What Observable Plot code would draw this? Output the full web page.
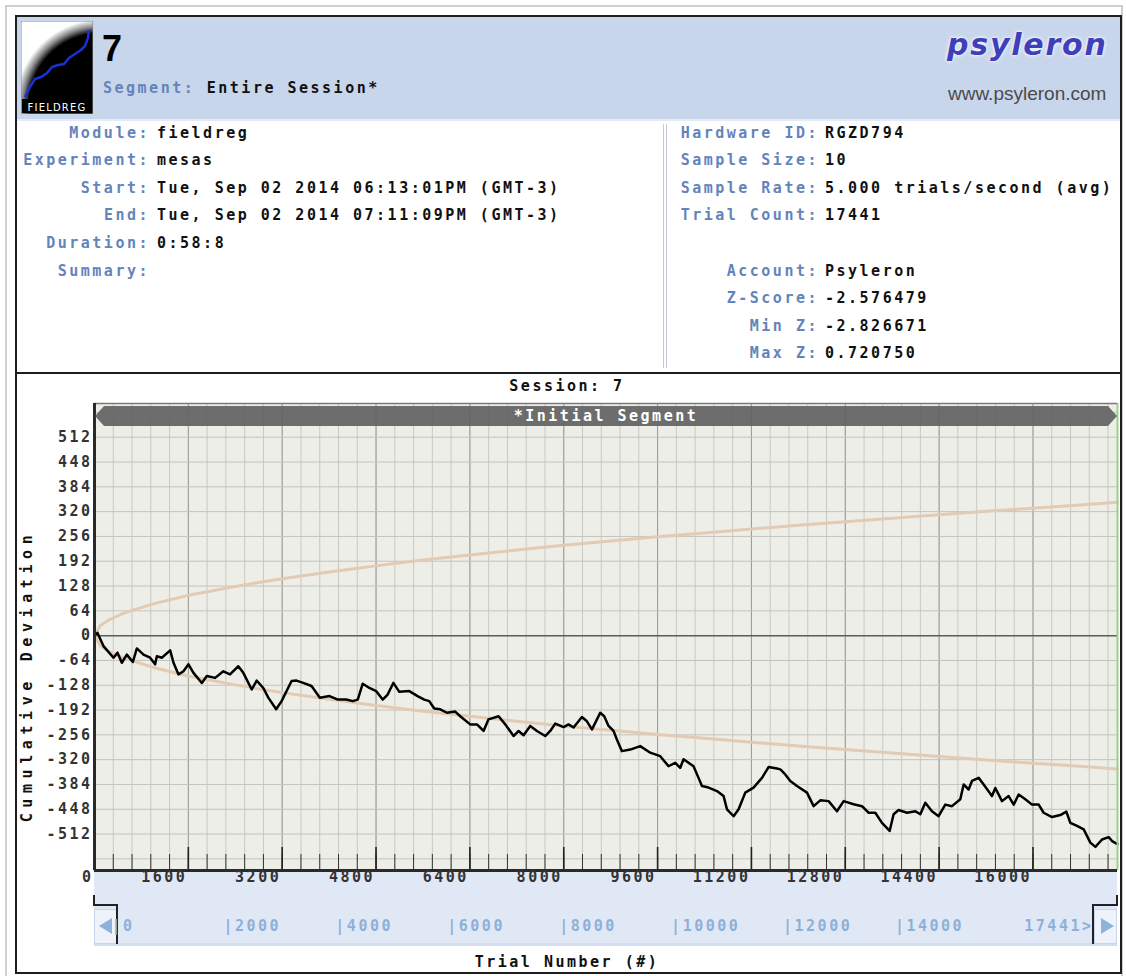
<!DOCTYPE html>
<html>
<head>
<meta charset="utf-8">
<script src="https://cdn.jsdelivr.net/npm/d3@7"></script>
<script src="https://cdn.jsdelivr.net/npm/@observablehq/plot@0.6"></script>
<style>
  html, body { margin: 0; padding: 0; background: #fff; }
  body { width: 1126px; height: 976px; position: relative; overflow: hidden; }
  .mono { font-family: "DejaVu Sans Mono", monospace; font-weight: bold; font-size: 15px; letter-spacing: 2.5px; line-height: 20px; white-space: pre; }
  .lbl { color: #6384bb; }
  .val { color: #111; }
</style>
</head>
<body>
<script>
// ---------------- data ----------------
const trialX = [0,51,153,324,392,466,551,654,722,835,948,1034,1063,1148,1290,1347,1432,1517,1602,1687,1830,1915,2057,2196,2310,2452,2537,2680,2765,2878,2963,3097,3190,3275,3360,3445,3558,3700,3785,3842,4007,4148,4290,4403,4488,4573,4687,4801,4913,4998,5095,5197,5367,5508,5622,5707,5792,5895,6008,6150,6235,6405,6520,6633,6718,6889,7003,7145,7230,7315,7429,7543,7685,7770,7855,7997,8082,8167,8310,8395,8481,8537,8622,8690,8764,8849,8906,8992,9134,9304,9475,9645,9787,9901,9986,10043,10213,10298,10356,10469,10612,10725,10783,10896,10981,11095,11236,11380,11492,11635,11693,11777,11862,11977,12147,12260,12374,12516,12658,12772,12942,13085,13198,13312,13426,13556,13624,13709,13852,13994,14079,14164,14278,14391,14505,14619,14761,14818,14903,14960,15074,15159,15301,15358,15472,15585,15671,15756,15869,15984,16097,16182,16325,16467,16569,16637,16751,16865,16978,17064,17177,17291,17348,17441];
const cumDev = [0,7,-27,-57,-44,-70,-49,-68,-33,-49,-57,-74,-53,-57,-38,-70,-100,-92,-74,-96,-122,-104,-109,-92,-100,-79,-96,-139,-116,-135,-160,-190,-169,-143,-117,-116,-122,-130,-148,-160,-156,-165,-165,-169,-165,-124,-135,-143,-165,-152,-122,-145,-143,-156,-165,-169,-188,-190,-199,-196,-208,-229,-229,-246,-216,-208,-229,-259,-246,-257,-233,-246,-259,-246,-227,-236,-229,-237,-210,-221,-242,-225,-199,-208,-233,-246,-268,-298,-294,-285,-302,-311,-337,-328,-341,-319,-337,-367,-388,-392,-401,-414,-448,-466,-448,-405,-392,-367,-339,-343,-345,-358,-375,-388,-405,-440,-425,-427,-453,-427,-435,-440,-457,-457,-483,-504,-461,-450,-457,-453,-461,-431,-453,-466,-436,-440,-422,-384,-397,-375,-367,-384,-414,-393,-427,-414,-436,-410,-422,-436,-436,-457,-468,-463,-454,-483,-491,-500,-534,-545,-526,-520,-530,-538];

// envelope (symmetric about zero)
const envTrial = [0,100,250,500,1000,1600,2400,3200,4000,4800,5600,6400,7200,8000,8800,9600,10400,11200,12000,12800,13600,14400,15200,16000,16800,17441];
const envBound = [0,26,41,58,82,104,127,147,164,180,195,208,221,233,244,255,265,275,285,294,303,312,321,329,337,344];

const xTickLabels = [0,1600,3200,4800,6400,8000,9600,11200,12800,14400,16000];
const yTickLabels = [-512,-448,-384,-320,-256,-192,-128,-64,0,64,128,192,256,320,384,448,512];
const sliderTicks = [0,2000,4000,6000,8000,10000,12000,14000];
const trialCount = 17441;

const leftLabels = ["Module:", "Experiment:", "Start:", "End:", "Duration:", "Summary:"];
const leftValues = ["fieldreg", "mesas", "Tue, Sep 02 2014 06:13:01PM (GMT-3)", "Tue, Sep 02 2014 07:11:09PM (GMT-3)", "0:58:8", ""];
const rightLabels = ["Hardware ID:", "Sample Size:", "Sample Rate:", "Trial Count:", "", "Account:", "Z-Score:", "Min Z:", "Max Z:"];
const rightValues = ["RGZD794", "10", "5.000 trials/second (avg)", "17441", "", "Psyleron", "-2.576479", "-2.826671", "0.720750"];

// ---------------- page chrome ----------------
function el(tag, css, html, cls) {
  const e = document.createElement(tag);
  if (cls) e.className = cls;
  e.style.cssText = css;
  if (html != null) e.innerHTML = html;
  document.body.appendChild(e);
  return e;
}
el("div", "position:absolute;left:5px;top:5px;width:1114px;height:990px;border:2px solid #cfcfcf;");
el("div", "position:absolute;left:15px;top:15px;width:1103px;height:955px;border:2px solid #1e1e1e;");
el("div", "position:absolute;left:17px;top:17px;width:1103px;height:102px;background:#c8d6ec;border-bottom:2px solid #e4ebf6;");
el("div", "position:absolute;left:17px;top:372px;width:1103px;height:2px;background:#1e1e1e;");
el("div", "position:absolute;left:663px;top:124px;width:2px;height:244px;border-left:1px solid #c3cbda;border-right:1px solid #c3cbda;");

// FIELDREG logo
el("div", "position:absolute;left:21px;top:21px;width:72px;height:93px;",
 `<svg width="72" height="93" viewBox="0 0 72 93">
   <defs><radialGradient id="lg" cx="80" cy="84" r="90" gradientUnits="userSpaceOnUse">
     <stop offset="0.8" stop-color="#000"/><stop offset="0.87" stop-color="#888"/><stop offset="0.95" stop-color="#fff"/></radialGradient></defs>
   <rect x="0" y="0" width="72" height="93" fill="url(#lg)" stroke="#888" stroke-width="1"/>
   <rect x="1" y="78" width="70" height="14" fill="#000"/>
   <polyline points="4,76 9,66 14,58 20,56 26,52 31,46 37,44 43,43 48,37 54,33 60,29 64,25 67,17 68,9" fill="none" stroke="#1b2fd6" stroke-width="2.5"/>
   <text x="36" y="90" text-anchor="middle" fill="#fff" font-family="DejaVu Sans" font-size="10" letter-spacing="1.2">FIELDREG</text>
 </svg>`);

el("div", "position:absolute;left:102px;top:31px;font-family:'Liberation Sans',Arial,sans-serif;font-weight:bold;font-size:36px;line-height:36px;color:#000;", "7");
el("div", "position:absolute;left:103px;top:78px;", '<span class="lbl">Segment:</span> <span class="val">Entire Session*</span>', "mono");

el("div", "position:absolute;left:947px;top:27px;font-family:'DejaVu Sans',sans-serif;font-weight:bold;font-style:italic;font-size:30px;line-height:36px;letter-spacing:1.8px;color:#3f3fba;text-shadow:0 0 2px #fff,0 0 4px #fff;", "psyleron");
el("div", "position:absolute;left:948px;top:83px;font-family:'Liberation Sans',Arial,sans-serif;font-size:19px;line-height:22px;color:#4a4a4a;", "www.psyleron.com");

// info rows
const rowPitch = 27.6, rowTop = 122.5;
leftLabels.forEach((l, i) => {
  el("div", `position:absolute;right:${1126 - 150}px;top:${rowTop + i * rowPitch}px;`, l, "mono lbl");
  el("div", `position:absolute;left:157px;top:${rowTop + i * rowPitch}px;`, leftValues[i], "mono val");
});
rightLabels.forEach((l, i) => {
  el("div", `position:absolute;right:${1126 - 819}px;top:${rowTop + i * rowPitch}px;`, l, "mono lbl");
  el("div", `position:absolute;left:825px;top:${rowTop + i * rowPitch}px;`, rightValues[i], "mono val");
});

// ---------------- chart ----------------
const dev = trialX.map((x, i) => ({x, y: cumDev[i]}));
const upper = envTrial.map((x, i) => ({x, y: envBound[i]}));
const lower = envTrial.map((x, i) => ({x, y: -envBound[i]}));
const yDomain = [-606, 599];
const minorX = d3.range(0, trialCount, 320);
const majorX = d3.range(0, trialCount, 1600);
const gridY = d3.range(-576, 577, 64);

const chart = Plot.plot({
  width: 1104, height: 597,
  marginLeft: 78, marginRight: 3, marginTop: 28, marginBottom: 102,
  x: {domain: [0, trialCount], axis: null},
  y: {domain: yDomain, axis: null},
  style: {fontFamily: '"DejaVu Sans Mono", monospace', fontSize: "15px", fontWeight: "bold", letterSpacing: "2.5px", background: "transparent", overflow: "visible", color: "#333"},
  marks: [
    Plot.frame({fill: "#eeeee9", stroke: null}),
    Plot.gridX({ticks: minorX, stroke: "#c9c9c4", strokeOpacity: 1}),
    Plot.gridX({ticks: majorX, stroke: "#9b9b97", strokeOpacity: 1}),
    Plot.gridY({ticks: gridY, stroke: "#c3c3be", strokeOpacity: 1}),
    Plot.ruleY([0], {stroke: "#5c5c5c", strokeWidth: 1.5}),
    Plot.line(upper, {x: "x", y: "y", stroke: "#e2cbb2", strokeWidth: 3}),
    Plot.line(lower, {x: "x", y: "y", stroke: "#e2cbb2", strokeWidth: 3}),
    Plot.line(dev, {x: "x", y: "y", stroke: "#000", strokeWidth: 2.5}),
    Plot.ruleX([trialCount], {stroke: "#9ccf8c", strokeWidth: 2}),
    Plot.ruleY([yDomain[1]], {stroke: "#7a7a7a", strokeWidth: 1.5}),
    Plot.ruleX(minorX, {stroke: "#333", strokeWidth: 1, insetTop: 451}),
    Plot.ruleX(majorX, {stroke: "#222", strokeWidth: 1.6, insetTop: 444}),
    Plot.ruleX([0], {stroke: "#2a2a2a", strokeWidth: 3}),
    Plot.ruleY([yDomain[0]], {stroke: "#2a2a2a", strokeWidth: 3}),
    Plot.text(yTickLabels, {y: d => d, frameAnchor: "left", dx: -2, textAnchor: "end", text: d => String(d), fill: "#333"}),
    Plot.text(xTickLabels, {x: d => d, frameAnchor: "bottom", dy: 11, dx: -1, textAnchor: "end", text: d => String(d), fill: "#333"})
  ]
});
chart.style.position = "absolute";
chart.style.left = "16px";
chart.style.top = "375px";

// slider band under the plot
el("div", "position:absolute;left:94px;top:871px;width:1023px;height:72px;background:#e1e8f5;border-bottom:3px solid #d2ddef;");
document.body.appendChild(chart);

el("div", "position:absolute;left:0;width:1134px;top:376px;text-align:center;color:#111;", "Session: 7", "mono");
el("div", "position:absolute;left:95px;top:406px;width:1022px;height:20px;background:rgba(98,98,98,0.92);clip-path:polygon(0 50%,9px 0,calc(100% - 9px) 0,100% 50%,calc(100% - 9px) 100%,9px 100%);text-align:center;color:#fff;", "*Initial Segment", "mono");
el("div", "position:absolute;left:27px;top:676px;transform:translate(-50%,-50%) rotate(-90deg);color:#111;letter-spacing:5.6px;", "Cumulative Deviation", "mono");
el("div", "position:absolute;left:0;width:1134px;top:952px;text-align:center;color:#111;", "Trial Number (#)", "mono");

// slider buttons and brackets
el("div", "position:absolute;left:94px;top:909px;width:21px;height:33px;background:#eef3fb;border:1px solid #c6d6ee;");
el("div", "position:absolute;left:99px;top:918px;width:0;height:0;border-top:8px solid transparent;border-bottom:8px solid transparent;border-right:13px solid #8fb2da;");
el("div", "position:absolute;left:1094px;top:909px;width:21px;height:33px;background:#eef3fb;border:1px solid #c6d6ee;");
el("div", "position:absolute;left:1101px;top:918px;width:0;height:0;border-top:8px solid transparent;border-bottom:8px solid transparent;border-left:13px solid #8fb2da;");
el("div", "position:absolute;left:93px;top:895px;width:23px;height:9px;border-left:2px solid #222;border-bottom:2px solid #222;");
el("div", "position:absolute;left:116px;top:904px;width:2px;height:40px;background:#222;");
el("div", "position:absolute;left:1093px;top:895px;width:23px;height:9px;border-right:2px solid #222;border-bottom:2px solid #222;");
el("div", "position:absolute;left:1092px;top:904px;width:2px;height:40px;background:#222;");

// slider scale
const slider = Plot.plot({
  width: 1104, height: 72,
  marginLeft: 101, marginRight: 27, marginTop: 0, marginBottom: 0,
  x: {domain: [0, trialCount], axis: null},
  style: {fontFamily: '"DejaVu Sans Mono", monospace', fontSize: "15px", fontWeight: "bold", letterSpacing: "2.5px", background: "transparent", overflow: "visible"},
  marks: [
    Plot.text(sliderTicks, {x: d => d, frameAnchor: "top", dy: 54, dx: -6, textAnchor: "start", text: d => "|" + d, fill: "#8db0da"}),
    Plot.text([trialCount], {x: d => d, frameAnchor: "top", dy: 54, dx: 0, textAnchor: "end", text: d => d + ">", fill: "#8db0da"})
  ]
});
slider.style.position = "absolute";
slider.style.left = "16px";
slider.style.top = "866px";
document.body.appendChild(slider);
</script>
</body>
</html>
